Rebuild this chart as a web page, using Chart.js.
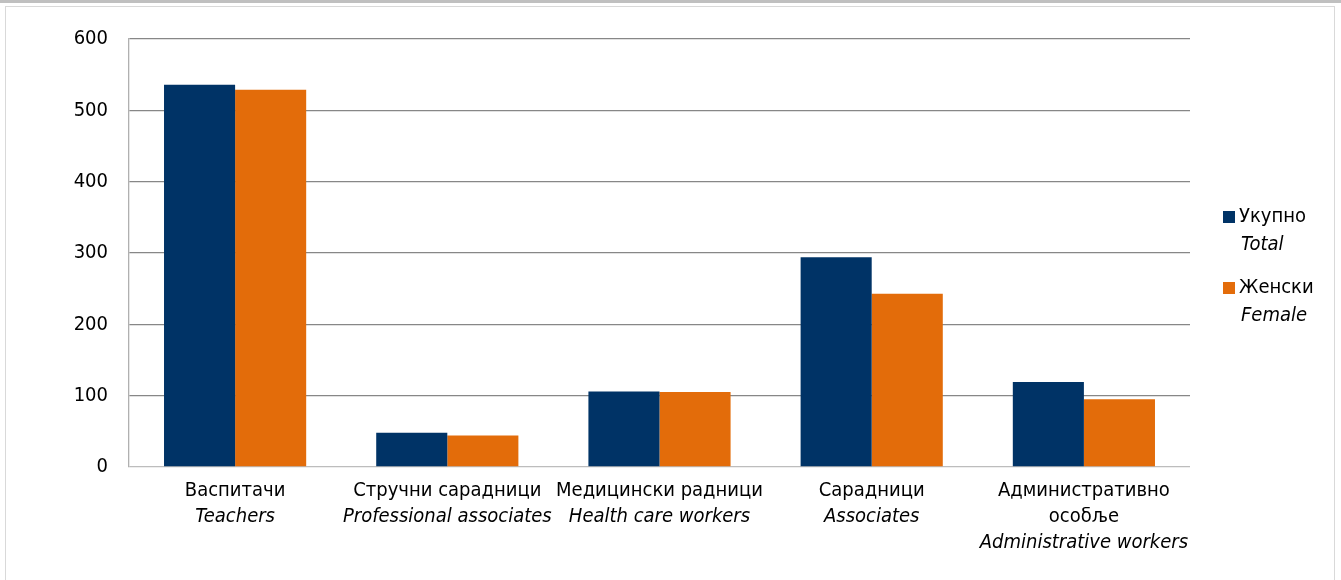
<!DOCTYPE html>
<html lang="sr">
<head>
    <meta charset="UTF-8">
    <title>Vaspitači po zanimanju</title>
    <script src="https://cdn.jsdelivr.net/npm/chart.js"></script>
    <style>
        html, body { margin: 0; padding: 0; background: #fff; }
        .topband { position: absolute; left: 0; top: 0; width: 1341px; height: 3px; background: #c0c0c0; }
        .frame { position: absolute; left: 5px; top: 6px; width: 1330px; height: 580px; border: 1px solid #d9d9d9; box-sizing: border-box; }
        .wrap { position: absolute; left: 0; top: 0; width: 1341px; height: 580px; }
    </style>
</head>
<body>
    <div class="topband"></div>
    <div class="frame"></div>
    <div class="wrap"><canvas id="chart"></canvas></div>

    <script>
        // podaci
        const categoriesSr = [['Васпитачи'], ['Стручни сарадници'], ['Медицински радници'], ['Сарадници'], ['Административно', 'особље']];
        const categoriesEn = ['Teachers', 'Professional associates', 'Health care workers', 'Associates', 'Administrative workers'];
        const seriesSr = ['Укупно', 'Женски'];
        const seriesEn = ['Total', 'Female'];
        const totalValues = [536, 48, 106, 294, 119];
        const femaleValues = [529, 44, 105, 243, 95];
        const yTicks = [0, 100, 200, 300, 400, 500, 600];

        const FONT = "'DejaVu Sans Condensed', 'DejaVu Sans', sans-serif";
        const colors = ['#003366', '#e36c0a'];

        // x labels (two languages, english in italic)
        const xLabelsPlugin = {
            id: 'xLabels',
            afterDraw(chart) {
                const ctx = chart.ctx;
                const sx = chart.scales.x;
                const top = chart.chartArea.bottom + 24;
                ctx.save();
                ctx.fillStyle = '#000';
                ctx.textAlign = 'center';
                ctx.textBaseline = 'middle';
                categoriesSr.forEach((lines, i) => {
                    const x = sx.getPixelForValue(i);
                    let y = top;
                    ctx.font = '20px ' + FONT;
                    lines.forEach(l => { ctx.fillText(l, x, y); y += 26; });
                    ctx.font = 'italic 20px ' + FONT;
                    ctx.fillText(categoriesEn[i], x, y);
                });
                ctx.restore();
            }
        };

        // legend on the right
        const legendPlugin = {
            id: 'sideLegend',
            afterDraw(chart) {
                const ctx = chart.ctx;
                const x0 = chart.chartArea.right + 33;
                ctx.save();
                ctx.textAlign = 'left';
                ctx.textBaseline = 'middle';
                seriesSr.forEach((name, i) => {
                    const y = 217 + i * 71;
                    ctx.fillStyle = chart.data.datasets[i].backgroundColor;
                    ctx.fillRect(x0, y - 6, 12, 12);
                    ctx.fillStyle = '#000';
                    ctx.font = '20px ' + FONT;
                    ctx.fillText(name, x0 + 16, y);
                    ctx.font = 'italic 20px ' + FONT;
                    ctx.fillText(seriesEn[i], x0 + 18, y + 28);
                });
                ctx.restore();
            }
        };

        new Chart(document.getElementById('chart'), {
            type: 'bar',
            data: {
                labels: categoriesEn,
                datasets: [
                    { label: seriesSr[0], data: totalValues, backgroundColor: colors[0] },
                    { label: seriesSr[1], data: femaleValues, backgroundColor: colors[1] }
                ]
            },
            options: {
                responsive: true,
                maintainAspectRatio: false,
                animation: false,
                layout: { padding: { top: 39, right: 151, bottom: 113, left: 0 } },
                datasets: { bar: { categoryPercentage: 0.67, barPercentage: 1.0 } },
                plugins: { legend: { display: false }, tooltip: { enabled: false } },
                scales: {
                    x: {
                        grid: { display: false },
                        border: { display: false },
                        ticks: { display: false },
                        afterFit: s => { s.height = 0; }
                    },
                    y: {
                        min: 0,
                        max: 600,
                        afterBuildTicks: s => { s.ticks = yTicks.map(v => ({ value: v })); },
                        afterFit: s => { s.width = 129; },
                        ticks: { padding: 21, color: '#000', font: { family: FONT, size: 20 } },
                        grid: {
                            drawTicks: false,
                            color: c => c.tick && c.tick.value === 0 ? '#bdbdbd' : '#878787',
                            lineWidth: 1.3
                        },
                        border: { color: '#b0b0b0', width: 1.3 }
                    }
                }
            },
            plugins: [xLabelsPlugin, legendPlugin]
        });
    </script>
</body>
</html>
